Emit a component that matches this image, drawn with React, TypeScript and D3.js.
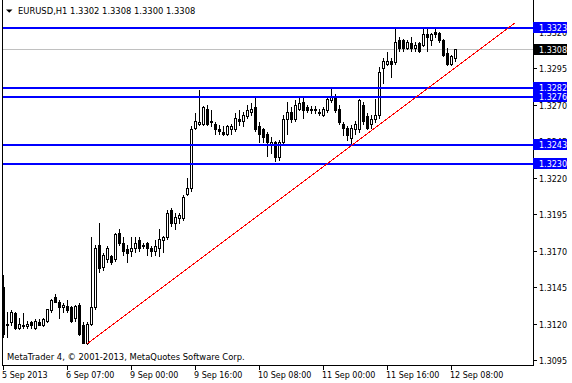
import React from 'react';
import * as d3 from 'd3';

const titleText = 'EURUSD,H1  1.3302 1.3308 1.3300 1.3308';
const copyrightText = 'MetaTrader 4, © 2001-2013, MetaQuotes Software Corp.';

const opens = [
  1.3145, 1.3120, 1.3121, 1.3127, 1.3117, 1.3119, 1.3118, 1.3121, 1.3117, 1.3121,
  1.3119, 1.3122, 1.3129, 1.3138, 1.3135, 1.3131, 1.3132, 1.3131, 1.3124, 1.3133,
  1.3119, 1.3107, 1.3120, 1.3131, 1.3174, 1.3159, 1.3164, 1.3166, 1.3164, 1.3182,
  1.3175, 1.3171, 1.3170, 1.3172, 1.3177, 1.3174, 1.3175, 1.3172, 1.3170, 1.3172,
  1.3177, 1.3179, 1.3198, 1.3189, 1.3192, 1.3192, 1.3209, 1.3213, 1.3254, 1.3257,
  1.3257, 1.3267, 1.3259, 1.3257, 1.3253, 1.3251, 1.3250, 1.3253, 1.3253, 1.3260,
  1.3259, 1.3262, 1.3265, 1.3268, 1.3255, 1.3253, 1.3250, 1.3243, 1.3244, 1.3234,
  1.3244, 1.3260, 1.3265, 1.3260, 1.3267, 1.3272, 1.3268, 1.3267, 1.3266, 1.3265,
  1.3263, 1.3266, 1.3273, 1.3276, 1.3267, 1.3257, 1.3254, 1.3247, 1.3253, 1.3253,
  1.3270, 1.3262, 1.3257, 1.3260, 1.3263, 1.3295, 1.3298, 1.3300, 1.3299, 1.3314,
  1.3314, 1.3309, 1.3312, 1.3309, 1.3312, 1.3311, 1.3318, 1.3314, 1.3320, 1.3319,
  1.3314, 1.3305, 1.3298, 1.3302,
];
const highs = [
  1.3153, 1.3128, 1.3129, 1.3128, 1.3124, 1.3127, 1.3122, 1.3122, 1.3123, 1.3123,
  1.3124, 1.3130, 1.3137, 1.3140, 1.3136, 1.3134, 1.3136, 1.3132, 1.3133, 1.3134,
  1.3121, 1.3121, 1.3179, 1.3174, 1.3189, 1.3168, 1.3173, 1.3167, 1.3182, 1.3185,
  1.3179, 1.3174, 1.3179, 1.3179, 1.3179, 1.3175, 1.3176, 1.3173, 1.3177, 1.3185,
  1.3180, 1.3198, 1.3199, 1.3196, 1.3196, 1.3208, 1.3220, 1.3255, 1.3264, 1.3280,
  1.3269, 1.3270, 1.3266, 1.3258, 1.3256, 1.3255, 1.3256, 1.3257, 1.3264, 1.3266,
  1.3265, 1.3270, 1.3271, 1.3275, 1.3258, 1.3254, 1.3251, 1.3248, 1.3245, 1.3246,
  1.3263, 1.3272, 1.3268, 1.3273, 1.3276, 1.3275, 1.3270, 1.3269, 1.3269, 1.3267,
  1.3268, 1.3276, 1.3282, 1.3277, 1.3270, 1.3258, 1.3255, 1.3256, 1.3259, 1.3274,
  1.3272, 1.3264, 1.3263, 1.3274, 1.3296, 1.3302, 1.3306, 1.3302, 1.3323, 1.3316,
  1.3315, 1.3314, 1.3316, 1.3313, 1.3313, 1.3323, 1.3323, 1.3319, 1.3323, 1.3320,
  1.3315, 1.3309, 1.3304, 1.3308,
];
const lows = [
  1.3111, 1.3111, 1.3119, 1.3116, 1.3116, 1.3117, 1.3117, 1.3117, 1.3116, 1.3119,
  1.3118, 1.3121, 1.3128, 1.3135, 1.3124, 1.3128, 1.3128, 1.3121, 1.3122, 1.3112,
  1.3107, 1.3106, 1.3119, 1.3130, 1.3155, 1.3157, 1.3162, 1.3161, 1.3163, 1.3174,
  1.3167, 1.3162, 1.3166, 1.3169, 1.3170, 1.3172, 1.3167, 1.3166, 1.3167, 1.3166,
  1.3169, 1.3178, 1.3187, 1.3185, 1.3189, 1.3191, 1.3208, 1.3211, 1.3253, 1.3256,
  1.3256, 1.3256, 1.3255, 1.3250, 1.3250, 1.3249, 1.3249, 1.3250, 1.3252, 1.3256,
  1.3255, 1.3261, 1.3263, 1.3252, 1.3244, 1.3244, 1.3235, 1.3237, 1.3231, 1.3232,
  1.3243, 1.3250, 1.3258, 1.3259, 1.3266, 1.3261, 1.3265, 1.3264, 1.3264, 1.3263,
  1.3262, 1.3265, 1.3272, 1.3265, 1.3257, 1.3249, 1.3246, 1.3243, 1.3250, 1.3251,
  1.3257, 1.3253, 1.3254, 1.3258, 1.3261, 1.3285, 1.3297, 1.3289, 1.3298, 1.3307,
  1.3307, 1.3308, 1.3307, 1.3307, 1.3306, 1.3310, 1.3307, 1.3311, 1.3316, 1.3313,
  1.3303, 1.3297, 1.3297, 1.3300,
];
const closes = [
  1.3113, 1.3119, 1.3128, 1.3117, 1.3120, 1.3118, 1.3120, 1.3119, 1.3122, 1.3119,
  1.3123, 1.3130, 1.3136, 1.3135, 1.3131, 1.3133, 1.3129, 1.3122, 1.3132, 1.3113,
  1.3107, 1.3120, 1.3131, 1.3172, 1.3158, 1.3167, 1.3172, 1.3162, 1.3181, 1.3175,
  1.3170, 1.3168, 1.3172, 1.3175, 1.3172, 1.3173, 1.3172, 1.3170, 1.3173, 1.3178,
  1.3179, 1.3196, 1.3189, 1.3193, 1.3194, 1.3207, 1.3213, 1.3253, 1.3259, 1.3258,
  1.3268, 1.3257, 1.3258, 1.3253, 1.3252, 1.3250, 1.3255, 1.3255, 1.3261, 1.3259,
  1.3263, 1.3266, 1.3267, 1.3253, 1.3250, 1.3248, 1.3244, 1.3244, 1.3234, 1.3244,
  1.3260, 1.3265, 1.3260, 1.3270, 1.3271, 1.3266, 1.3266, 1.3266, 1.3267, 1.3264,
  1.3267, 1.3274, 1.3276, 1.3266, 1.3258, 1.3254, 1.3249, 1.3254, 1.3257, 1.3273,
  1.3259, 1.3254, 1.3260, 1.3263, 1.3292, 1.3300, 1.3300, 1.3298, 1.3313, 1.3309,
  1.3309, 1.3313, 1.3309, 1.3311, 1.3307, 1.3318, 1.3316, 1.3318, 1.3318, 1.3314,
  1.3304, 1.3298, 1.3303, 1.3308,
];

const timeTickBars = [0, 16, 32, 48, 64, 80, 96, 112];
const timeTickLabels = ['5 Sep 2013', '6 Sep 07:00', '9 Sep 00:00', '9 Sep 16:00', '10 Sep 08:00', '11 Sep 00:00', '11 Sep 16:00', '12 Sep 08:00'];
const priceTicks = [1.3095, 1.3120, 1.3145, 1.3170, 1.3195, 1.3220, 1.3245, 1.3270, 1.3295, 1.3320];
const levelPrices = [1.3282, 1.3276, 1.3243, 1.3230, 1.3323];
const bidPrice = 1.3308;
const trendBars = [21, 128];
const trendPrices = [1.3106, 1.3326];

const FONT = 'DejaVu Sans';

export default function App() {
  const plotLeft = 2, plotRight = 533, plotBottom = 365;
  const x = d3.scaleLinear().domain([0, 113]).range([3, 455]);
  const y = d3.scaleLinear().domain([1.30916, 1.33416]).range([plotBottom, 0]);
  const py = (p: number) => Math.round(y(p));
  const bars = d3.range(opens.length);

  return (
    <svg width={572} height={383} style={{ position: 'fixed', left: 0, top: 0, background: '#fff' }} shapeRendering="crispEdges">
      <rect x={0} y={0} width={572} height={383} fill="#fff" />
      <rect x={plotLeft} y={py(bidPrice)} width={plotRight - plotLeft} height={1} fill="#c0c0c0" />
      {bars.map((i) => {
        const cx = Math.round(x(i));
        const o = py(opens[i]), c = py(closes[i]), h = py(highs[i]), l = py(lows[i]);
        const top = Math.min(o, c), bot = Math.max(o, c);
        const bull = closes[i] > opens[i];
        return (
          <g key={i}>
            <rect x={cx} y={h} width={1} height={l - h + 1} fill="#000" />
            <rect x={cx - 1} y={top} width={3} height={bot - top + 1} fill="#000" />
            {bull && bot - top > 1 && <rect x={cx} y={top + 1} width={1} height={bot - top - 1} fill="#fff" />}
          </g>
        );
      })}
      {levelPrices.map((p, k) => (
        <rect key={k} x={plotLeft} y={py(p)} width={plotRight - plotLeft} height={2} fill="#0000ff" />
      ))}
      <line x1={x(trendBars[0])} y1={y(trendPrices[0])} x2={x(trendBars[1])} y2={y(trendPrices[1])} stroke="#ff0000" strokeWidth={1} shapeRendering="crispEdges" />
      <rect x={plotLeft} y={0} width={1} height={plotBottom + 1} fill="#000" />
      <rect x={plotRight} y={0} width={1} height={plotBottom + 1} fill="#000" />
      <rect x={plotLeft} y={plotBottom} width={plotRight - plotLeft + 1} height={1} fill="#000" />
      <path d="M6,9.5 L12.5,9.5 L9.25,12.8 Z" fill="#000" shapeRendering="auto" />
      <text x={18} y={14} fontFamily={FONT} fontSize={8.4} fill="#000">{titleText}</text>
      <text x={7} y={360} fontFamily={FONT} fontSize={8.4} fill="#000">{copyrightText}</text>
      {timeTickBars.map((b, k) => {
        const tx = Math.round(x(b));
        return (
          <g key={k}>
            <rect x={tx} y={plotBottom} width={1} height={5} fill="#000" />
            <text x={tx - 1} y={378} fontFamily={FONT} fontSize={8} fill="#000">{timeTickLabels[k]}</text>
          </g>
        );
      })}
      {priceTicks.map((p, k) => {
        const ty = py(p);
        return (
          <g key={k}>
            <rect x={plotRight} y={ty} width={4} height={1} fill="#000" />
            <text x={539} y={ty + 3.5} fontFamily={FONT} fontSize={8} fill="#000">{p.toFixed(4)}</text>
          </g>
        );
      })}
      {levelPrices.map((p, k) => {
        const ty = py(p);
        return (
          <g key={k}>
            <rect x={plotRight} y={ty - 5} width={34} height={11} fill="#0000ff" />
            <text x={539} y={ty + 3.5} fontFamily={FONT} fontSize={8} fill="#fff">{p.toFixed(4)}</text>
          </g>
        );
      })}
      <rect x={plotRight} y={py(bidPrice) - 5} width={34} height={11} fill="#000" />
      <text x={539} y={py(bidPrice) + 3.5} fontFamily={FONT} fontSize={8} fill="#fff">{bidPrice.toFixed(4)}</text>
    </svg>
  );
}
